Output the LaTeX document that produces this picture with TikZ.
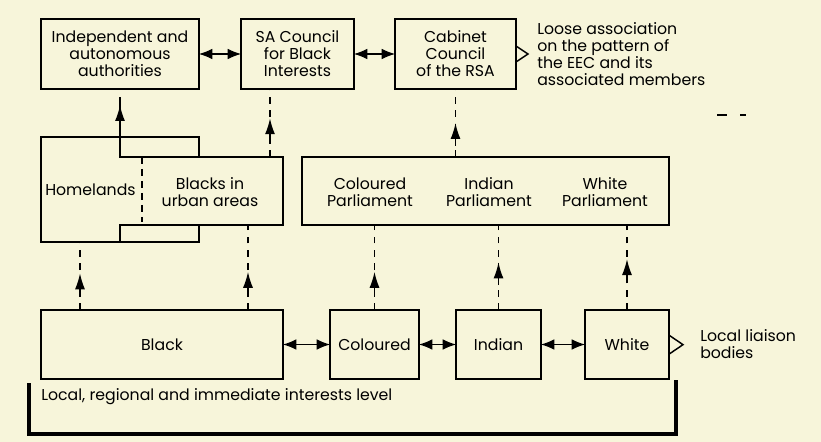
\documentclass[tikz,border=0pt]{standalone}
\usepackage{fontspec}
\setmainfont{Poppins}
\usepackage{tikz}
\usetikzlibrary{arrows.meta,calc,decorations.markings}
\definecolor{paper}{RGB}{247,245,218}

\tikzset{
  box/.style={draw, rectangle, inner sep=0pt, outer sep=0pt, align=center, line width=1.1pt},
  frame/.style={rectangle, inner sep=0pt, outer sep=0pt},
  both/.style={{Latex[length=10pt,width=8pt]}-{Latex[length=10pt,width=8pt]}, line width=0.8pt},
  uparrow/.style={line width=1.1pt, postaction={decorate},
    decoration={markings, mark=at position #1 with {\draw[solid, line width=1.1pt] (-17pt,0) -- (-4pt,0); \arrow{Latex[length=12pt,width=7.5pt]}}}},
  uparrow/.default=0.55,
  dashflow/.style={uparrow=#1, dash pattern=on 5pt off 5pt},
  dashflow/.default=0.55,
}

\begin{document}
\begin{tikzpicture}[x=0.75pt, y=-0.75pt, font=\fontsize{11.8pt}{12.75pt}\selectfont]
\fill[paper] (0,0) rectangle (821,442);

% top level
\node [box, minimum width=118.5pt, minimum height=52.5pt] (indep) at (120,54) {Independent and\\autonomous\\authorities};
\node [box, minimum width=84.75pt, minimum height=52.5pt] (sacouncil) at (297.5,54) {SA Council\\for Black\\Interests};
\node [box, minimum width=90.75pt, minimum height=52.5pt] (cabinet) at (455.5,54) {Cabinet\\Council\\of the RSA};
\node [anchor=west, align=left, inner sep=0pt] (eec) at (537,54) {Loose association\\on the pattern of\\the EEC and its\\associated members};

\draw[both] (indep) -- (sacouncil);
\draw[both] (sacouncil) -- (cabinet);
\draw[line width=1.1pt] ([yshift=6pt]cabinet.east) -- ++(12,8) -- ++(-12,8);

% middle level
\node [frame, minimum width=118.5pt, minimum height=78.75pt] (home) at (120,189.5) {};
\node [frame, minimum width=122.25pt, minimum height=51pt] (urban) at (201.5,191) {};
\node [anchor=west, inner sep=3pt] (homelab) at (home.west) {Homelands};
\node [align=center] (urbanlab) at (210,192) {Blacks in\\urban areas};

\draw[line width=1.1pt] (home.north west) -- (home.north east) -- (home.east |- urban.north)
  -- (urban.north east) -- (urban.south east) -- (home.east |- urban.south)
  -- (home.south east) -- (home.south west) -- cycle;
\draw[line width=1.1pt] (urban.west |- home.north) -- (urban.north west) -- (home.east |- urban.north);
\draw[line width=1.1pt] (urban.west |- home.south) -- (urban.south west) -- (home.east |- urban.south);
\draw[line width=1.1pt, dash pattern=on 5pt off 4pt] ($(urban.north west)+(22,0)$) -- ($(urban.south west)+(22,-3)$);

\node [box, minimum width=275.25pt, minimum height=51pt] (parl) at (485.5,191) {};
\node [align=center] (colparl) at (370,192) {Coloured\\Parliament};
\node [align=center] (indparl) at (489,192) {Indian\\Parliament};
\node [align=center] (whiparl) at (605,192) {White\\Parliament};

\draw[uparrow=0.8] (indep.south |- home.north) -- ([yshift=-6pt]indep.south);
\draw[dashflow=0.57] ([xshift=-9.75pt]urban.north east) -- ([xshift=-9.75pt]urban.north east |- sacouncil.south);
\draw[dashflow=0.5] (cabinet.south |- parl.north) -- (cabinet.south);

% local level
\node [box, minimum width=181.5pt, minimum height=51.75pt] (black) at (162,344.5) {Black};
\node [box, minimum width=66.75pt, minimum height=51.75pt] (coloured) at (374.5,344.5) {Coloured};
\node [box, minimum width=63.75pt, minimum height=51.75pt] (indian) at (498.5,344.5) {Indian};
\node [box, minimum width=63pt, minimum height=51.75pt] (white) at (627,344.5) {White};
\node [anchor=west, align=left, inner sep=0pt] (liaison) at (700,344) {Local liaison\\bodies};

\draw[both] (black) -- (coloured);
\draw[both] (coloured) -- (indian);
\draw[both] (indian) -- (white);
\draw[line width=1.1pt] ([yshift=7pt]white.east) -- ++(14,9.5) -- ++(-14,9.5);

\draw[dashflow=0.54] ([xshift=29.25pt]black.north west) -- ([xshift=29.25pt]home.south west);
\draw[dashflow=0.45] ([xshift=-26.25pt]black.north east) -- ([xshift=-26.25pt]urban.south east);
\draw[dashflow=0.45] (coloured.north) -- (coloured.north |- parl.south);
\draw[dashflow=0.56] (indian.north) -- (indian.north |- parl.south);
\draw[dashflow=0.6] (white.north) -- (white.north |- parl.south);

% bracket
\draw[line width=2.6pt] (29,383) -- (29,434) -- (676,434) -- (676,380);
\node [anchor=west, inner sep=0pt] (level) at (41,397) {Local, regional and immediate interests level};

\draw[line width=1.5pt] (717,115) -- (727,115);
\draw[line width=1.5pt] (740,115) -- (746,115);
\end{tikzpicture}
\end{document}
